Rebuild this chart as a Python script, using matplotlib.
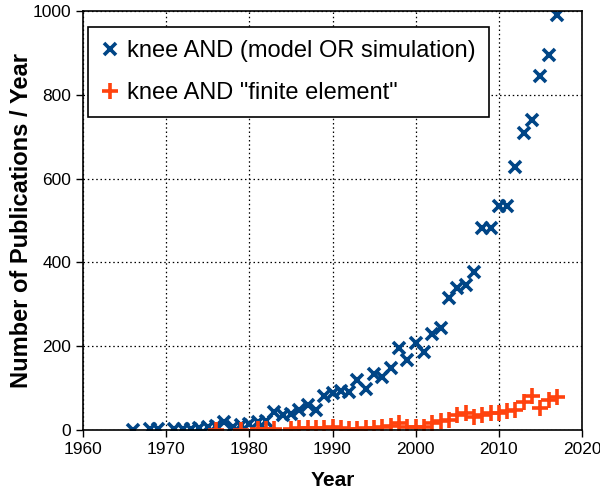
import matplotlib
matplotlib.use('Agg')
import matplotlib.pyplot as plt

plt.rcParams.update({'font.family': ['Liberation Sans', 'DejaVu Sans']})

C_BLUE, C_RED = '#004586', '#ff420e'

# knee AND (model OR simulation)
years_model = [1966, 1968, 1969, 1971, 1972, 1973, 1974, 1975, 1976, 1977,
               1978, 1979, 1980, 1981, 1982, 1983, 1984, 1985, 1986, 1987,
               1988, 1989, 1990, 1991, 1992, 1993, 1994, 1995, 1996, 1997,
               1998, 1999, 2000, 2001, 2002, 2003, 2004, 2005, 2006, 2007,
               2008, 2009, 2010, 2011, 2012, 2013, 2014, 2015, 2016, 2017]
pubs_model = [1, 2, 3, 2, 2, 3, 4, 8, 10, 18,
              8, 12, 15, 20, 22, 42, 35, 38, 48, 60,
              48, 82, 88, 93, 91, 119, 99, 133, 127, 147,
              196, 168, 207, 187, 228, 243, 315, 338, 347, 378,
              481, 481, 535, 535, 628, 708, 740, 845, 895, 990]

# knee AND "finite element"
years_fe = [1976, 1979, 1981, 1982, 1983, 1985, 1986, 1987, 1988, 1989,
            1990, 1991, 1992, 1993, 1994, 1995, 1996, 1997, 1998, 1999,
            2000, 2001, 2002, 2003, 2004, 2005, 2006, 2007, 2008, 2009,
            2010, 2011, 2012, 2013, 2014, 2015, 2016, 2017]
pubs_fe = [1, 1, 2, 2, 3, 3, 4, 5, 4, 5,
           6, 4, 3, 3, 4, 5, 6, 10, 17, 8,
           8, 8, 17, 22, 25, 36, 41, 32, 36, 40,
           40, 46, 48, 66, 82, 52, 72, 78]

fig = plt.figure(figsize=(6.0, 4.91), dpi=100)
ax = fig.add_axes([83/600, 1 - 430/491, 499/600, 419/491])

ax.plot(years_model, pubs_model, 'x', color=C_BLUE, ms=9, mew=2.6,
        label='knee AND (model OR simulation)')
ax.plot(years_fe, pubs_fe, '+', color=C_RED, ms=11, mew=2.6,
        label='knee AND "finite element"')

ax.set_xlim(1960, 2020)
ax.set_ylim(0, 1000)
ax.set_xticks(range(1960, 2021, 10))
ax.set_yticks(range(0, 1001, 200))
ax.tick_params(direction='out', length=5, width=1, labelsize=12.5, colors='black')
ax.tick_params(axis='x', pad=4)
ax.grid(True, color='black', linestyle=(0, (1.2, 2.2)), linewidth=0.9)
ax.set_axisbelow(True)
for s in ax.spines.values():
    s.set_linewidth(1.2)

ax.set_xlabel('Year', fontsize=15, fontweight='bold', labelpad=10)
ax.set_ylabel('Number of Publications / Year', fontsize=17, fontweight='bold', labelpad=0)

leg = ax.legend(loc='upper left', fontsize=17, frameon=True, fancybox=False,
                edgecolor='black', framealpha=1, handlelength=0.8,
                handletextpad=0.3, labelspacing=0.85, borderpad=0.55,
                borderaxespad=0, bbox_to_anchor=(0.01, 0.962))
leg.get_frame().set_linewidth(1.2)

fig.savefig('out.png', dpi=100)
